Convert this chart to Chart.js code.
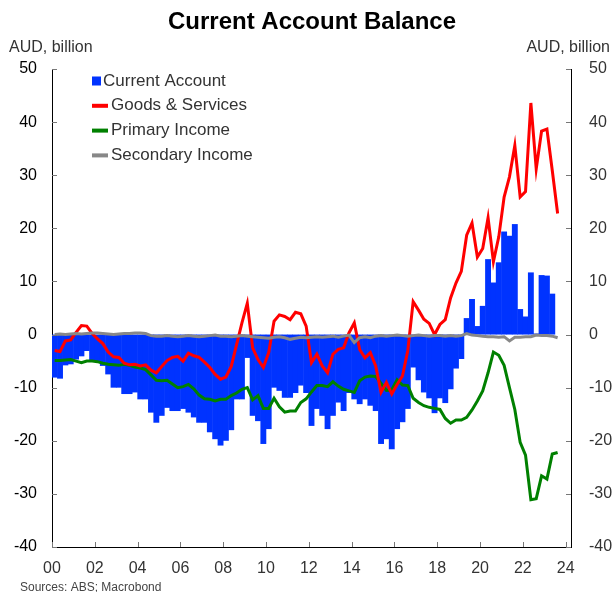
<!DOCTYPE html>
<html>
<head>
<meta charset="utf-8">
<title>Current Account Balance</title>
<script src="https://cdn.jsdelivr.net/npm/chart.js@4.4.0/dist/chart.umd.min.js"></script>
<style>
  body { margin: 0; background: #fff; }
  #wrap { width: 614px; height: 592px; position: relative; }
</style>
</head>
<body>
<div id="wrap"><canvas id="chart" width="614" height="592"></canvas></div>
<script>
// Quarterly data, first quarter = 2000 Q1 (AUD billion)
var startYear = 2000;

var currentAccount = [
    -8.1, -8.3, -5.8, -5.6, -4.7, -4.1, -3.1, -5.0, -5.0, -5.9,
    -7.5, -10.0, -10.0, -11.2, -11.2, -10.9, -12.2, -12.2, -14.7, -16.6,
    -15.3, -13.8, -14.4, -14.4, -14.0, -14.7, -15.6, -16.6, -16.6, -18.4,
    -19.7, -20.9, -20.0, -18.0, -12.2, -12.2, -4.4, -15.3, -16.3, -20.6,
    -17.8, -10.0, -10.6, -11.9, -11.9, -11.0, -9.6, -11.0, -17.2, -14.0,
    -15.3, -17.8, -15.3, -12.8, -14.4, -11.0, -12.2, -13.1, -12.2, -13.4,
    -14.4, -20.6, -19.7, -21.6, -17.8, -16.5, -14.0, -6.2, -8.6, -10.9,
    -12.0, -14.8, -12.0, -12.9, -10.3, -6.4, -4.6, 3.1, 6.7, 1.6,
    5.4, 14.2, 9.8, 13.6, 19.4, 18.6, 20.8, 4.8, 3.4, 11.7,
    0.2, 11.2, 11.1, 7.7
];

var goodsServices = [
    -3.0, -3.2, -1.2, -1.0, 0.4, 1.7, 1.6, 0.2, -0.8, -1.7,
    -3.3, -4.2, -4.3, -5.4, -5.7, -5.6, -5.9, -5.7, -6.7, -7.2,
    -6.0, -4.9, -4.3, -4.1, -5.0, -3.5, -4.0, -4.3, -5.2, -6.2,
    -7.5, -8.4, -8.0, -6.0, -1.9, 2.2, 5.9, -2.5, -4.7, -6.2,
    -3.4, 2.5, 3.7, 3.4, 2.8, 4.2, 3.9, 1.6, -5.3, -3.7,
    -5.9, -7.2, -3.7, -2.8, -2.5, 0.3, 2.2, -2.8, -4.4, -3.4,
    -5.9, -10.9, -9.0, -11.2, -9.4, -7.8, -3.0, 6.2, 4.6, 2.9,
    2.1, 0.0, 1.9, 2.8, 6.9, 9.7, 11.9, 18.7, 21.0, 14.6,
    16.2, 22.0, 13.7, 18.4, 25.9, 29.7, 35.6, 25.9, 26.9, 43.6,
    31.2, 38.3, 38.7, 30.9, 22.8
];

var primaryIncome = [
    -4.9, -4.9, -4.8, -4.7, -5.0, -5.3, -5.0, -5.0, -5.1, -5.4,
    -5.6, -5.7, -5.8, -5.6, -5.8, -6.1, -6.3, -6.6, -7.6, -8.6,
    -8.7, -8.6, -9.3, -10.0, -9.8, -9.4, -10.2, -11.4, -12.1, -12.2,
    -12.5, -12.2, -12.2, -11.5, -11.0, -10.3, -10.0, -12.3, -11.5, -13.9,
    -13.9, -12.0, -13.6, -14.6, -14.4, -14.4, -12.8, -12.1, -10.8, -9.6,
    -9.6, -9.8, -8.9, -9.7, -10.3, -10.6, -10.9, -8.7, -8.0, -7.8,
    -7.9, -9.2, -10.5, -10.4, -8.5, -9.5, -9.6, -12.0, -12.8, -13.4,
    -13.7, -13.9, -14.1, -15.8, -16.7, -16.1, -16.1, -15.6, -14.2, -12.5,
    -10.6, -7.2, -3.3, -3.9, -5.8, -10.0, -14.1, -20.3, -22.7, -31.1,
    -30.9, -26.6, -27.2, -22.5, -22.2
];

var secondaryIncome = [
    0.0, 0.1, 0.0, 0.1, 0.2, 0.1, 0.2, 0.3, 0.3, 0.2,
    0.1, 0.0, 0.1, 0.2, 0.2, 0.3, 0.3, 0.2, -0.2, -0.3,
    -0.3, -0.2, -0.3, -0.4, -0.3, -0.2, -0.3, -0.4, -0.3, -0.2,
    -0.1, -0.3, -0.3, -0.4, -0.3, -0.2, -0.3, -0.4, -0.5, -0.6,
    -0.7, -0.5, -0.4, -0.6, -0.9, -0.7, -0.5, -0.6, -0.5, -0.4,
    -0.5, -0.4, -0.3, -0.5, -0.3, -0.1, -1.5, -0.6, -0.4, -0.6,
    -0.3, -0.2, -0.3, -0.2, -0.1, -0.2, -0.3, -0.2, -0.1, -0.2,
    -0.3, -0.2, -0.2, -0.3, -0.2, -0.3, -0.2, 0.2, -0.1, -0.2,
    -0.3, -0.4, -0.4, -0.5, -0.4, -1.2, -0.5, -0.5, -0.4, -0.4,
    -0.1, -0.2, -0.2, -0.3, -0.6
];

var yTicks = [-40, -30, -20, -10, 0, 10, 20, 30, 40, 50];
var xTicks = [2000, 2002, 2004, 2006, 2008, 2010, 2012, 2014, 2016, 2018, 2020, 2022, 2024];

var FONT = '"Liberation Sans", Arial, sans-serif';

// turn a quarterly series into {x, y} points at mid-quarter
function toPoints(values) {
    return values.map(function (v, i) {
        return { x: startYear + i / 4 + 0.125, y: v };
    });
}

// inward tick marks, titles, legend and source note
var decorations = {
    id: 'decorations',
    afterDraw: function (chart) {
        var ctx = chart.ctx;
        var area = chart.chartArea;
        var xs = chart.scales.x;
        var yl = chart.scales.y;

        ctx.save();
        ctx.strokeStyle = '#777';
        ctx.lineWidth = 1;
        ctx.beginPath();
        yTicks.forEach(function (t) {
            var py = Math.round(yl.getPixelForValue(t)) + 0.5;
            ctx.moveTo(area.left, py);
            ctx.lineTo(area.left + 5, py);
            ctx.moveTo(area.right, py);
            ctx.lineTo(area.right - 5, py);
        });
        xTicks.forEach(function (t) {
            var px = Math.round(xs.getPixelForValue(t)) + 0.5;
            ctx.moveTo(px, area.bottom);
            ctx.lineTo(px, area.bottom - 5);
        });
        ctx.stroke();

        // title
        ctx.fillStyle = '#000';
        ctx.font = 'bold 24px ' + FONT;
        ctx.textAlign = 'center';
        ctx.textBaseline = 'middle';
        ctx.fillText('Current Account Balance', 312, 22);

        // unit labels
        ctx.fillStyle = '#333';
        ctx.font = '16px ' + FONT;
        ctx.textAlign = 'left';
        ctx.fillText('AUD, billion', 9, 48);
        ctx.textAlign = 'right';
        ctx.fillText('AUD, billion', 610, 48);

        // legend
        var items = chart.data.datasets.slice().sort(function (a, b) {
            return a.legendIndex - b.legendIndex;
        });
        ctx.font = '17px ' + FONT;
        ctx.textAlign = 'left';
        items.forEach(function (ds, i) {
            var cy = 81 + i * 24.8;
            if (ds.type === 'line') {
                ctx.fillStyle = ds.borderColor;
                ctx.fillRect(92, cy - 2, 16, 4);
                ctx.fillStyle = '#333';
                ctx.fillText(ds.label, 111, cy);
            } else {
                ctx.fillStyle = ds.backgroundColor;
                ctx.fillRect(92, cy - 4.5, 9, 9);
                ctx.fillStyle = '#333';
                ctx.fillText(ds.label, 103, cy);
            }
        });

        // source
        ctx.fillStyle = '#444';
        ctx.font = '12px ' + FONT;
        ctx.textBaseline = 'alphabetic';
        ctx.fillText('Sources: ABS; Macrobond', 20, 591);
        ctx.restore();
    }
};

var ctx = document.getElementById('chart').getContext('2d');
new Chart(ctx, {
    type: 'bar',
    data: {
        datasets: [
            {
                type: 'line',
                label: 'Secondary Income',
                legendIndex: 3,
                data: toPoints(secondaryIncome),
                borderColor: '#888888',
                borderWidth: 3,
                pointRadius: 0,
                tension: 0,
                order: 1
            },
            {
                type: 'line',
                label: 'Goods & Services',
                legendIndex: 1,
                data: toPoints(goodsServices),
                borderColor: '#ff0000',
                borderWidth: 3,
                pointRadius: 0,
                tension: 0,
                order: 2
            },
            {
                type: 'line',
                label: 'Primary Income',
                legendIndex: 2,
                data: toPoints(primaryIncome),
                borderColor: '#008000',
                borderWidth: 3,
                pointRadius: 0,
                tension: 0,
                order: 3
            },
            {
                type: 'bar',
                label: 'Current Account',
                legendIndex: 0,
                data: toPoints(currentAccount),
                backgroundColor: '#0033ff',
                borderWidth: 0,
                barPercentage: 1.1,
                categoryPercentage: 1,
                order: 10
            }
        ]
    },
    options: {
        responsive: false,
        animation: false,
        layout: { padding: { top: 69, left: 0, right: 0, bottom: 0 } },
        plugins: {
            legend: { display: false },
            tooltip: { enabled: false },
            title: { display: false }
        },
        scales: {
            x: {
                type: 'linear',
                min: 2000,
                max: 2024.25,
                offset: false,
                grid: { display: false },
                border: { display: true, color: '#000', width: 1 },
                afterFit: function (s) { s.height = 45; },
                afterBuildTicks: function (s) {
                    s.ticks = xTicks.map(function (v) { return { value: v }; });
                },
                ticks: {
                    padding: 4,
                    color: '#333',
                    font: { family: FONT, size: 16 },
                    maxRotation: 0,
                    autoSkip: false,
                    callback: function (v) {
                        return String(v % 100).padStart(2, '0');
                    }
                }
            },
            y: {
                position: 'left',
                min: -40,
                max: 50,
                grid: { display: false },
                border: { display: true, color: '#000', width: 1 },
                afterFit: function (s) { s.width = 52; },
                afterBuildTicks: function (s) {
                    s.ticks = yTicks.map(function (v) { return { value: v }; });
                },
                ticks: {
                    padding: 7,
                    color: '#000',
                    font: { family: FONT, size: 16 }
                }
            },
            y2: {
                position: 'right',
                min: -40,
                max: 50,
                grid: { display: false },
                border: { display: true, color: '#000', width: 1 },
                afterFit: function (s) { s.width = 43; },
                afterBuildTicks: function (s) {
                    s.ticks = yTicks.map(function (v) { return { value: v }; });
                },
                ticks: {
                    padding: 10,
                    color: '#333',
                    font: { family: FONT, size: 16 }
                }
            }
        }
    },
    plugins: [decorations]
});
</script>
</body>
</html>
